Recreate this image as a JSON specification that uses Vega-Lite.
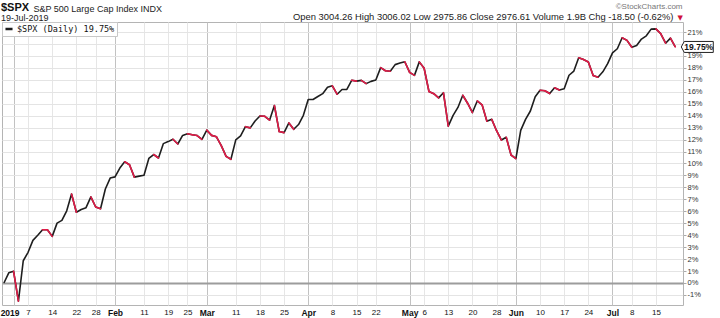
{
  "$schema": "https://vega.github.io/schema/vega-lite/v6.json",
  "width": 681,
  "height": 283,
  "autosize": {"type": "none"},
  "padding": {"left": 2, "top": 22, "right": 37, "bottom": 13},
  "background": "white",
  "config": {"view": {"stroke": "#b4b4b4", "strokeWidth": 1}, "font": "Liberation Sans"},
  "title": {
    "text": "$SPX",
    "subtitle": "19-Jul-2019",
    "anchor": "start",
    "frame": "group",
    "font": "Liberation Sans",
    "fontSize": 11,
    "fontWeight": "bold",
    "color": "#111111",
    "subtitleFont": "Liberation Sans",
    "subtitleFontSize": 9,
    "subtitleColor": "#222222",
    "subtitlePadding": 1,
    "offset": 1,
    "dx": -1,
    "dy": 21.5
  },
  "data": {
    "values": [
      {"d": "2018-12-28", "i": 0, "v": 0},
      {"d": "2018-12-31", "i": 1, "v": 0.85},
      {"d": "2019-01-02", "i": 2, "v": 0.98},
      {"d": "2019-01-03", "i": 3, "v": -1.52},
      {"d": "2019-01-04", "i": 4, "v": 1.86},
      {"d": "2019-01-07", "i": 5, "v": 2.57},
      {"d": "2019-01-08", "i": 6, "v": 3.57},
      {"d": "2019-01-09", "i": 7, "v": 3.99},
      {"d": "2019-01-10", "i": 8, "v": 4.46},
      {"d": "2019-01-11", "i": 9, "v": 4.45},
      {"d": "2019-01-14", "i": 10, "v": 3.90},
      {"d": "2019-01-15", "i": 11, "v": 5.01},
      {"d": "2019-01-16", "i": 12, "v": 5.24},
      {"d": "2019-01-17", "i": 13, "v": 6.04},
      {"d": "2019-01-18", "i": 14, "v": 7.44},
      {"d": "2019-01-22", "i": 15, "v": 5.92},
      {"d": "2019-01-23", "i": 16, "v": 6.15},
      {"d": "2019-01-24", "i": 17, "v": 6.30},
      {"d": "2019-01-25", "i": 18, "v": 7.20},
      {"d": "2019-01-28", "i": 19, "v": 6.36},
      {"d": "2019-01-29", "i": 20, "v": 6.21},
      {"d": "2019-01-30", "i": 21, "v": 7.86},
      {"d": "2019-01-31", "i": 22, "v": 8.78},
      {"d": "2019-02-01", "i": 23, "v": 8.88},
      {"d": "2019-02-04", "i": 24, "v": 9.62},
      {"d": "2019-02-05", "i": 25, "v": 10.14},
      {"d": "2019-02-06", "i": 26, "v": 9.89},
      {"d": "2019-02-07", "i": 27, "v": 8.86},
      {"d": "2019-02-08", "i": 28, "v": 8.94},
      {"d": "2019-02-11", "i": 29, "v": 9.01},
      {"d": "2019-02-12", "i": 30, "v": 10.42},
      {"d": "2019-02-13", "i": 31, "v": 10.75},
      {"d": "2019-02-14", "i": 32, "v": 10.46},
      {"d": "2019-02-15", "i": 33, "v": 11.66},
      {"d": "2019-02-19", "i": 34, "v": 11.83},
      {"d": "2019-02-20", "i": 35, "v": 12.03},
      {"d": "2019-02-21", "i": 36, "v": 11.63},
      {"d": "2019-02-22", "i": 37, "v": 12.35},
      {"d": "2019-02-25", "i": 38, "v": 12.49},
      {"d": "2019-02-26", "i": 39, "v": 12.40},
      {"d": "2019-02-27", "i": 40, "v": 12.34},
      {"d": "2019-02-28", "i": 41, "v": 12.02},
      {"d": "2019-03-01", "i": 42, "v": 12.79},
      {"d": "2019-03-04", "i": 43, "v": 12.35},
      {"d": "2019-03-05", "i": 44, "v": 12.23},
      {"d": "2019-03-06", "i": 45, "v": 11.49},
      {"d": "2019-03-07", "i": 46, "v": 10.59},
      {"d": "2019-03-08", "i": 47, "v": 10.35},
      {"d": "2019-03-11", "i": 48, "v": 11.97},
      {"d": "2019-03-12", "i": 49, "v": 12.30},
      {"d": "2019-03-13", "i": 50, "v": 13.08},
      {"d": "2019-03-14", "i": 51, "v": 12.98},
      {"d": "2019-03-15", "i": 52, "v": 13.55},
      {"d": "2019-03-18", "i": 53, "v": 13.97},
      {"d": "2019-03-19", "i": 54, "v": 13.95},
      {"d": "2019-03-20", "i": 55, "v": 13.62},
      {"d": "2019-03-21", "i": 56, "v": 14.85},
      {"d": "2019-03-22", "i": 57, "v": 12.67},
      {"d": "2019-03-25", "i": 58, "v": 12.58},
      {"d": "2019-03-26", "i": 59, "v": 13.39},
      {"d": "2019-03-27", "i": 60, "v": 12.86},
      {"d": "2019-03-28", "i": 61, "v": 13.26},
      {"d": "2019-03-29", "i": 62, "v": 14.03},
      {"d": "2019-04-01", "i": 63, "v": 15.35},
      {"d": "2019-04-02", "i": 64, "v": 15.35},
      {"d": "2019-04-03", "i": 65, "v": 15.60},
      {"d": "2019-04-04", "i": 66, "v": 15.84},
      {"d": "2019-04-05", "i": 67, "v": 16.37},
      {"d": "2019-04-08", "i": 68, "v": 16.50},
      {"d": "2019-04-09", "i": 69, "v": 15.79},
      {"d": "2019-04-10", "i": 70, "v": 16.19},
      {"d": "2019-04-11", "i": 71, "v": 16.20},
      {"d": "2019-04-12", "i": 72, "v": 16.96},
      {"d": "2019-04-15", "i": 73, "v": 16.89},
      {"d": "2019-04-16", "i": 74, "v": 16.95},
      {"d": "2019-04-17", "i": 75, "v": 16.68},
      {"d": "2019-04-18", "i": 76, "v": 16.87},
      {"d": "2019-04-22", "i": 77, "v": 16.99},
      {"d": "2019-04-23", "i": 78, "v": 18.02},
      {"d": "2019-04-24", "i": 79, "v": 17.76},
      {"d": "2019-04-25", "i": 80, "v": 17.72},
      {"d": "2019-04-26", "i": 81, "v": 18.27},
      {"d": "2019-04-29", "i": 82, "v": 18.40},
      {"d": "2019-04-30", "i": 83, "v": 18.51},
      {"d": "2019-05-01", "i": 84, "v": 17.62},
      {"d": "2019-05-02", "i": 85, "v": 17.37},
      {"d": "2019-05-03", "i": 86, "v": 18.50},
      {"d": "2019-05-06", "i": 87, "v": 17.97},
      {"d": "2019-05-07", "i": 88, "v": 16.02},
      {"d": "2019-05-08", "i": 89, "v": 15.84},
      {"d": "2019-05-09", "i": 90, "v": 15.49},
      {"d": "2019-05-10", "i": 91, "v": 15.92},
      {"d": "2019-05-13", "i": 92, "v": 13.12},
      {"d": "2019-05-14", "i": 93, "v": 14.03},
      {"d": "2019-05-15", "i": 94, "v": 14.69},
      {"d": "2019-05-16", "i": 95, "v": 15.71},
      {"d": "2019-05-17", "i": 96, "v": 15.04},
      {"d": "2019-05-20", "i": 97, "v": 14.26},
      {"d": "2019-05-21", "i": 98, "v": 15.23},
      {"d": "2019-05-22", "i": 99, "v": 14.91},
      {"d": "2019-05-23", "i": 100, "v": 13.54},
      {"d": "2019-05-24", "i": 101, "v": 13.69},
      {"d": "2019-05-28", "i": 102, "v": 12.74},
      {"d": "2019-05-29", "i": 103, "v": 11.96},
      {"d": "2019-05-30", "i": 104, "v": 12.19},
      {"d": "2019-05-31", "i": 105, "v": 10.71},
      {"d": "2019-06-03", "i": 106, "v": 10.41},
      {"d": "2019-06-04", "i": 107, "v": 12.77},
      {"d": "2019-06-05", "i": 108, "v": 13.69},
      {"d": "2019-06-06", "i": 109, "v": 14.39},
      {"d": "2019-06-07", "i": 110, "v": 15.59},
      {"d": "2019-06-10", "i": 111, "v": 16.13},
      {"d": "2019-06-11", "i": 112, "v": 16.09},
      {"d": "2019-06-12", "i": 113, "v": 15.85},
      {"d": "2019-06-13", "i": 114, "v": 16.33},
      {"d": "2019-06-14", "i": 115, "v": 16.14},
      {"d": "2019-06-17", "i": 116, "v": 16.25},
      {"d": "2019-06-18", "i": 117, "v": 17.38},
      {"d": "2019-06-19", "i": 118, "v": 17.73},
      {"d": "2019-06-20", "i": 119, "v": 18.84},
      {"d": "2019-06-21", "i": 120, "v": 18.70},
      {"d": "2019-06-24", "i": 121, "v": 18.49},
      {"d": "2019-06-25", "i": 122, "v": 17.36},
      {"d": "2019-06-26", "i": 123, "v": 17.22},
      {"d": "2019-06-27", "i": 124, "v": 17.67},
      {"d": "2019-06-28", "i": 125, "v": 18.35},
      {"d": "2019-07-01", "i": 126, "v": 19.25},
      {"d": "2019-07-02", "i": 127, "v": 19.60},
      {"d": "2019-07-03", "i": 128, "v": 20.52},
      {"d": "2019-07-05", "i": 129, "v": 20.30},
      {"d": "2019-07-08", "i": 130, "v": 19.72},
      {"d": "2019-07-09", "i": 131, "v": 19.87},
      {"d": "2019-07-10", "i": 132, "v": 20.41},
      {"d": "2019-07-11", "i": 133, "v": 20.68},
      {"d": "2019-07-12", "i": 134, "v": 21.24},
      {"d": "2019-07-15", "i": 135, "v": 21.26},
      {"d": "2019-07-16", "i": 136, "v": 20.85},
      {"d": "2019-07-17", "i": 137, "v": 20.06},
      {"d": "2019-07-18", "i": 138, "v": 20.49},
      {"d": "2019-07-19", "i": 139, "v": 19.75}
    ]
  },
  "resolve": {"axis": {"x": "independent", "y": "independent"}},
  "layer": [
    {
      "mark": {"type": "line", "strokeWidth": 1.6, "strokeJoin": "round"},
      "encoding": {
        "x": {
          "field": "i",
          "type": "quantitative",
          "scale": {"domain": [-0.4, 140.6], "nice": false, "zero": false},
          "axis": {
            "orient": "bottom",
            "values": [2, 5, 10, 15, 19, 23, 29, 34, 38, 42, 48, 53, 58, 63, 68, 73, 77, 84, 87, 92, 97, 102, 106, 111, 116, 121, 126, 130, 135],
            "labelExpr": "['2019','7','14','22','28','Feb','11','19','25','Mar','11','18','25','Apr','8','15','22','May','6','13','20','28','Jun','10','17','24','Jul','8','15'][indexof([2,5,10,15,19,23,29,34,38,42,48,53,58,63,68,73,77,84,87,92,97,102,106,111,116,121,126,130,135], datum.value)]",
            "labelFontWeight": {"condition": {"test": "indexof([2,23,42,63,84,106,126], datum.value) >= 0", "value": "bold"}, "value": "normal"},
            "labelFontSize": {"condition": {"test": "indexof([2,23,42,63,84,106,126], datum.value) >= 0", "value": 8.5}, "value": 8},
            "labelOffset": {"condition": {"test": "datum.value === 2", "value": -4}, "value": 0},
            "labelFont": "Liberation Sans",
            "labelColor": "#111111",
            "labelPadding": 3,
            "labelOverlap": false,
            "labelBound": false,
            "labelFlush": false,
            "ticks": false,
            "domain": false,
            "grid": true,
            "gridColor": {"condition": {"test": "indexof([2,23,42,63,84,106,126], datum.value) >= 0", "value": "#c2c2c2"}, "value": "#e6e6e6"},
            "gridWidth": 1,
            "title": "S&P 500 Large Cap Index INDX",
            "titleX": 31,
            "titleY": -294,
            "titleAlign": "left",
            "titleBaseline": "alphabetic",
            "titleFont": "Liberation Sans",
            "titleFontSize": 9,
            "titleFontWeight": "normal",
            "titleColor": "#222222"
          }
        },
        "y": {
          "field": "v",
          "type": "quantitative",
          "scale": {"domain": [-1.841, 21.837], "nice": false, "zero": false},
          "axis": {
            "orient": "right",
            "values": [-1, 0, 1, 2, 3, 4, 5, 6, 7, 8, 9, 10, 11, 12, 13, 14, 15, 16, 17, 18, 19, 20, 21],
            "labelExpr": "datum.value + '%'",
            "labelFont": "Liberation Sans",
            "labelFontSize": 7.5,
            "labelColor": "#333333",
            "labelPadding": 1,
            "labelOverlap": false,
            "labelBound": false,
            "tickSize": 3,
            "tickColor": "#aaaaaa",
            "domain": false,
            "grid": true,
            "gridColor": {"condition": {"test": "datum.value === 0", "value": "#9c9c9c"}, "value": "#e4e4e4"},
            "gridWidth": {"condition": {"test": "datum.value === 0", "value": 2}, "value": 1},
            "title": "Open 3004.26  High 3006.02  Low 2975.86  Close 2976.61  Volume 1.9B  Chg -18.50 (-0.62%)",
            "titleAngle": 0,
            "titleX": -10,
            "titleY": -3,
            "titleAlign": "right",
            "titleBaseline": "alphabetic",
            "titleFont": "Liberation Sans",
            "titleFontSize": 9.4,
            "titleFontWeight": "normal",
            "titleColor": "#1a1a1a"
          }
        },
        "color": {
          "datum": "$SPX (Daily) 19.75%",
          "scale": {"range": ["#1e1e1e"]},
          "legend": {
            "orient": "top-left",
            "offset": 0,
            "title": null,
            "padding": 2,
            "fillColor": "white",
            "strokeColor": "#c8c8c8",
            "labelFont": "DejaVu Sans Mono",
            "labelFontSize": 8.5,
            "labelColor": "#111111",
            "labelOffset": 3,
            "symbolType": "stroke",
            "symbolStrokeWidth": 2.5,
            "symbolSize": 50
          }
        }
      }
    },
    {
      "transform": [
        {"window": [{"op": "lag", "field": "v", "as": "pv"}, {"op": "lag", "field": "i", "as": "pi"}], "sort": [{"field": "i", "order": "ascending"}]},
        {"filter": "datum.pi != null && datum.v < datum.pv"}
      ],
      "mark": {"type": "rule", "color": "#e01c48", "strokeWidth": 1.6, "strokeCap": "round"},
      "encoding": {
        "x": {
          "field": "pi",
          "type": "quantitative",
          "axis": {
            "orient": "top",
            "labels": false,
            "ticks": false,
            "domain": false,
            "grid": false,
            "title": "©StockCharts.com",
            "titleX": 680,
            "titleY": -14,
            "titleAlign": "right",
            "titleBaseline": "alphabetic",
            "titleFont": "Liberation Sans",
            "titleFontSize": 8,
            "titleFontWeight": "normal",
            "titleColor": "#777777"
          }
        },
        "x2": {"field": "i"},
        "y": {
          "field": "pv",
          "type": "quantitative",
          "axis": {
            "orient": "left",
            "labels": false,
            "ticks": false,
            "domain": false,
            "grid": false,
            "title": "▼",
            "titleAngle": 0,
            "titleX": 675,
            "titleY": -3,
            "titleAlign": "left",
            "titleBaseline": "alphabetic",
            "titleFont": "DejaVu Sans",
            "titleFontSize": 7,
            "titleFontWeight": "normal",
            "titleColor": "#d0103a"
          }
        },
        "y2": {"field": "v"}
      }
    },
    {
      "transform": [{"filter": "datum.i == 139"}],
      "mark": {"type": "point", "shape": "M0.6,0L0.9,-0.55L3.8,-0.55L3.8,0.55L0.9,0.55Z", "size": 400, "filled": true, "fill": "white", "stroke": "#222222", "strokeWidth": 1, "opacity": 1},
      "encoding": {
        "x": {"field": "i", "type": "quantitative", "axis": null},
        "y": {"field": "v", "type": "quantitative", "axis": null}
      }
    },
    {
      "transform": [{"filter": "datum.i == 139"}, {"calculate": "format(datum.v, '.2f') + '%'", "as": "lbl"}],
      "mark": {"type": "text", "dx": 23.5, "align": "center", "baseline": "middle", "font": "Liberation Sans", "fontSize": 8.5, "fontWeight": "bold", "color": "#111111"},
      "encoding": {
        "x": {"field": "i", "type": "quantitative", "axis": null},
        "y": {"field": "v", "type": "quantitative", "axis": null},
        "text": {"field": "lbl"}
      }
    }
  ]
}
